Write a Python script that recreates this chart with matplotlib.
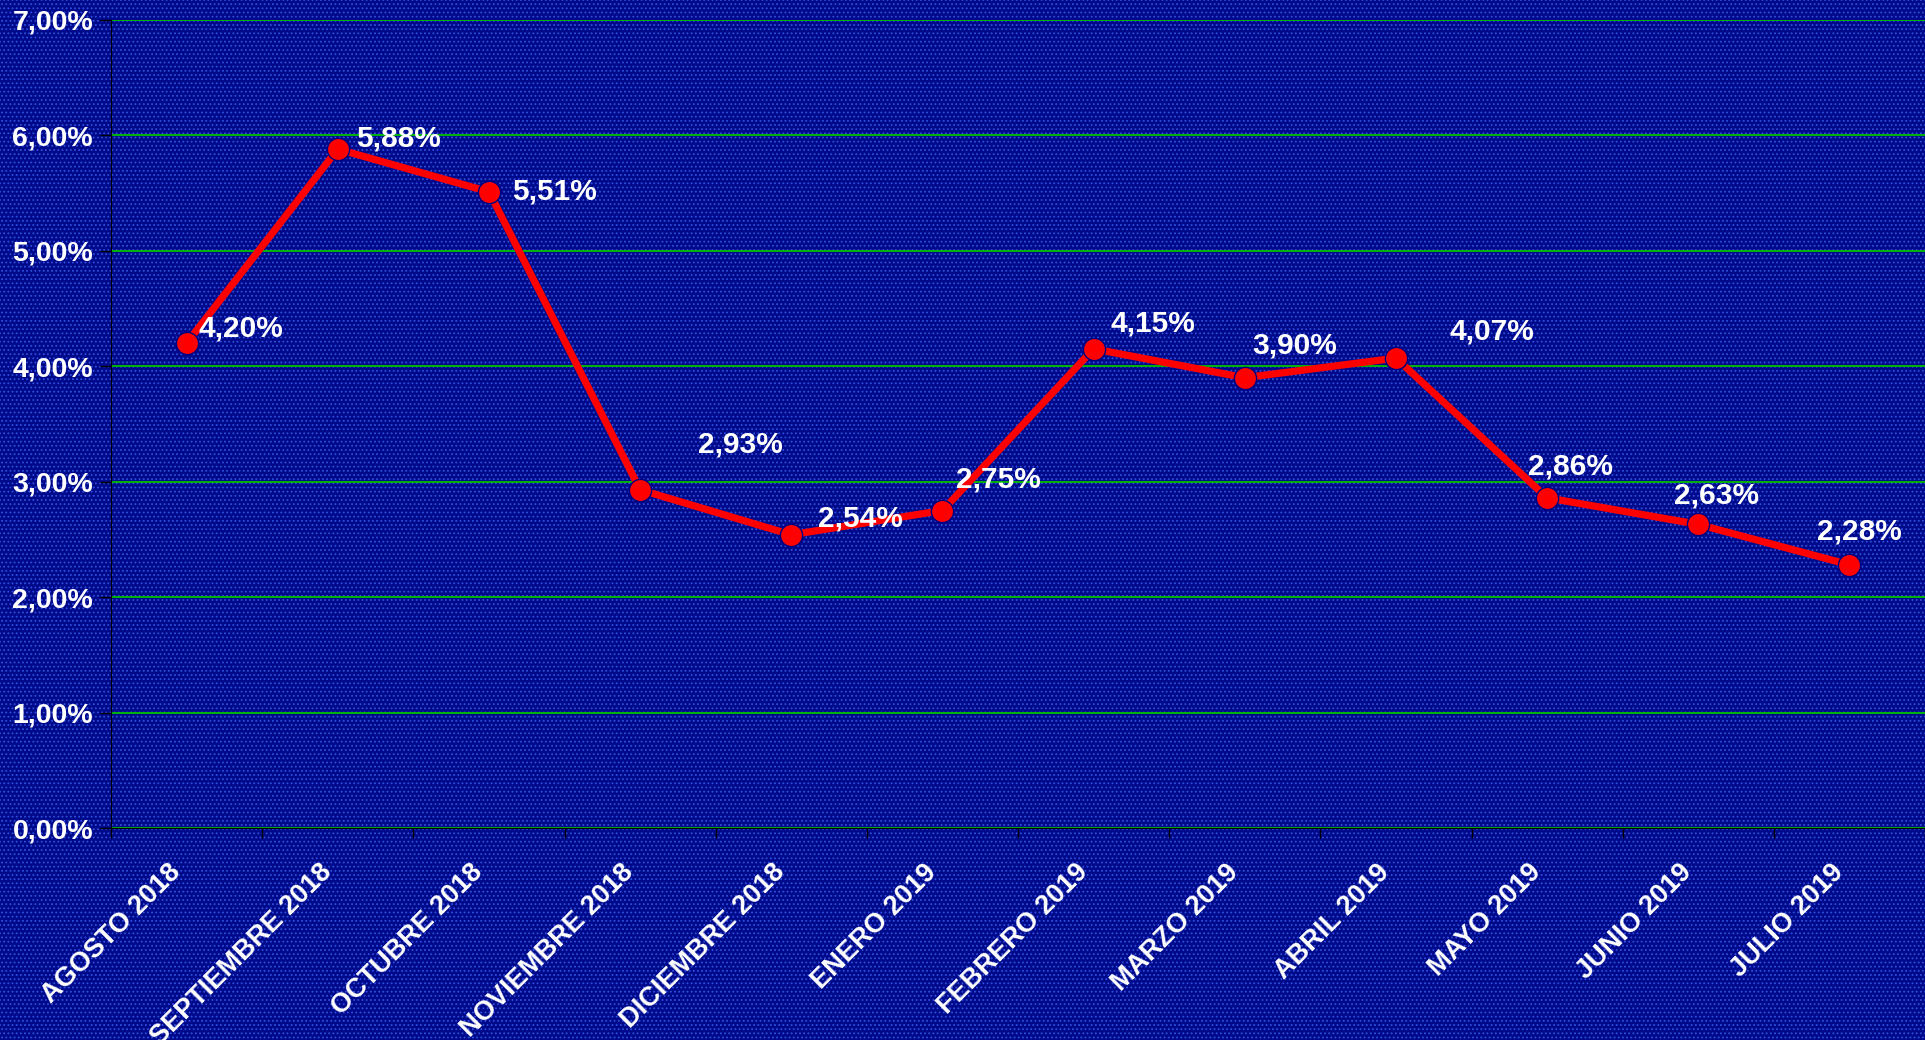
import numpy as np
import matplotlib
matplotlib.use('Agg')
import matplotlib.pyplot as plt
import matplotlib.transforms as mtransforms
from matplotlib.patches import Rectangle

# Data
months = ['AGOSTO 2018', 'SEPTIEMBRE 2018', 'OCTUBRE 2018', 'NOVIEMBRE 2018',
          'DICIEMBRE 2018', 'ENERO 2019', 'FEBRERO 2019', 'MARZO 2019',
          'ABRIL 2019', 'MAYO 2019', 'JUNIO 2019', 'JULIO 2019']
rates = [4.20, 5.88, 5.51, 2.93, 2.54, 2.75, 4.15, 3.90, 4.07, 2.86, 2.63, 2.28]
yticks = [0, 1, 2, 3, 4, 5, 6, 7]

# label offsets in pixels (dx, dy) relative to each point
label_off = [(54, 15), (61, 11), (65, 0), (100, 45), (69, 16), (56, 31),
             (59, 25), (50, 32), (96, 27), (23, 31), (18, 29), (10, 33)]

def fmt(v):
    return ('%.2f' % v).replace('.', ',') + '%'

plt.rcParams['font.family'] = ['Liberation Sans', 'DejaVu Sans']
plt.rcParams['hatch.linewidth'] = 0.8

fig = plt.figure(figsize=(19.25, 10.4), dpi=100, facecolor='#00098a')
# dotted background pattern
bg = Rectangle((0, 0), 1, 1, transform=fig.transFigure, facecolor='none',
               edgecolor='#2f50dc', hatch='....', linewidth=0, zorder=-1)
fig.patches.append(bg)

ax = fig.add_axes([0.0577, 0.2038, 0.9423, 0.7772])
ax.set_facecolor('none')

x = np.arange(len(months))
ax.plot(x, rates, color='#ff0000', linewidth=5.2, marker='o', markersize=16,
        markerfacecolor='#ff0000', markeredgecolor='#000080', markeredgewidth=1,
        zorder=3, solid_capstyle='round')

for i, v in enumerate(rates):
    dx, dy = label_off[i]
    ax.annotate(fmt(v), (x[i], v), xytext=(dx, dy), textcoords='offset pixels',
                ha='center', va='center', color='white', fontsize=21.5,
                fontweight='bold', zorder=4)

ax.set_xlim(-0.5, len(months) - 0.5)
ax.set_ylim(0, 7)
ax.set_yticks(yticks)
ax.set_yticklabels([fmt(t) for t in yticks], fontsize=20.5)
ax.yaxis.grid(True, color='#00c000', linewidth=1.3)
ax.set_axisbelow(True)

ax.set_xticks(x)
ax.set_xticklabels(months, rotation=45, ha='right', va='center',
                   rotation_mode='anchor', fontsize=19.5)
ax.set_xticks(np.arange(len(months) + 1) - 0.5, minor=True)
ax.tick_params(axis='x', which='major', length=0, pad=29)
ax.tick_params(axis='x', which='minor', length=7, width=1, color='black',
               direction='out')
ax.tick_params(axis='y', length=8, width=1, color='black', pad=5)

shift = mtransforms.ScaledTranslation(-10 / 100, 0, fig.dpi_scale_trans)
for lab in ax.get_xticklabels():
    lab.set_transform(lab.get_transform() + shift)

for lab in ax.get_xticklabels() + ax.get_yticklabels():
    lab.set_color('white')
    lab.set_fontweight('bold')

ax.spines['top'].set_visible(False)
ax.spines['right'].set_visible(False)
ax.spines['left'].set_color('black')
ax.spines['bottom'].set_color('black')

fig.savefig('out.png', dpi=100, facecolor=fig.get_facecolor())
